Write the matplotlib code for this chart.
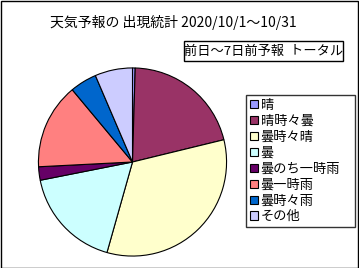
import matplotlib
matplotlib.use("Agg")
import matplotlib.pyplot as plt
from matplotlib.patches import Rectangle

plt.rcParams['font.family'] = ['Noto Sans CJK JP', 'DejaVu Sans']

# 天気予報の出現回数 (前日～7日前予報, 31日分)
categories = ['晴', '晴時々曇', '曇時々晴', '曇', '曇のち一時雨', '曇一時雨', '曇時々雨', 'その他']
counts = [1, 45, 72, 38, 5, 32, 10, 14]
colors = ['#9999FF', '#993366', '#FFFFCC', '#CCFFFF', '#660066', '#FF8080', '#0066CC', '#CCCCFF']

W, H = 359, 268
fig = plt.figure(figsize=(W / 100, H / 100), dpi=100)

# 円グラフ
ax = fig.add_axes([37.5 / W, 11 / H, 190 / W, 190 / H])
wedges, _ = ax.pie(counts, colors=colors, startangle=90, counterclock=False,
                   radius=1.0, wedgeprops=dict(edgecolor='black', linewidth=0.8))
ax.set_xlim(-1.01, 1.01)
ax.set_ylim(-1.01, 1.01)
ax.set_aspect('equal')
ax.axis('off')

# タイトル
fig.text(173 / W, 1 - 22 / H, '天気予報の 出現統計 2020/10/1～10/31',
         ha='center', va='center', fontsize=10)

# サブタイトル(枠付き)
fig.patches.append(Rectangle((184 / W, 1 - 61 / H), 159 / W, 20 / H, transform=fig.transFigure,
                             fill=False, edgecolor='black', linewidth=1))
fig.text(263.5 / W, 1 - 51 / H, '前日～7日前予報  トータル', ha='center', va='center', fontsize=9.5)

# 凡例
leg = fig.legend(wedges, categories, loc='upper left',
                 bbox_to_anchor=(246 / W, 1 - 239 / H, 109 / W, 144 / H),
                 bbox_transform=fig.transFigure, mode='expand',
                 fontsize=9.5, frameon=True, fancybox=False, edgecolor='black',
                 handlelength=0.6, handleheight=0.6, handletextpad=0.2,
                 labelspacing=0.22, borderpad=0.3, borderaxespad=0)
leg.get_frame().set_linewidth(1)

# 外枠
fig.patches.append(Rectangle((0.5 / W, 0.5 / H), (W - 2) / W, (H - 1.5) / H, transform=fig.transFigure,
                             fill=False, edgecolor='black', linewidth=1))

fig.savefig('out.png', dpi=100)
